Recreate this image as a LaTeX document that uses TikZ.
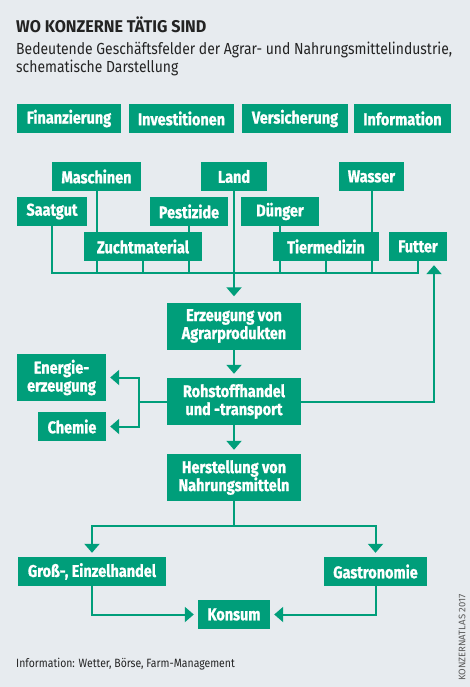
\documentclass[tikz,border=0pt]{standalone}
\usepackage{fontspec}
\setmainfont{Fira Sans}
\newfontfamily\boxfont[FakeStretch=0.85,FakeBold=1]{Fira Sans}
\newfontfamily\headfont[FakeStretch=0.95]{Fira Sans}
\newfontfamily\notefont[FakeStretch=0.87]{Fira Sans}
\usepackage{tikz}
\usetikzlibrary{arrows.meta}
\definecolor{atlasgreen}{RGB}{0,158,122}
\definecolor{paper}{RGB}{231,235,239}
\definecolor{ink}{RGB}{35,35,35}
\tikzstyle{field}=[fill=atlasgreen,text=white,font=\boxfont\bfseries\fontsize{17}{18}\selectfont,inner sep=0pt,minimum height=29pt,align=center]
\tikzstyle{tall}=[minimum height=47pt]
\tikzstyle{link}=[draw=atlasgreen,line width=2pt]
\tikzstyle{flow}=[-{Triangle[width=15pt,length=9pt]},shorten >=4pt]

\begin{document}
\begin{tikzpicture}[x=1pt,y=-1pt]
\useasboundingbox (0,0) rectangle (470,687);
\fill[paper] (0,0) rectangle (470,687);
% heading
\node [anchor=base west,inner sep=0pt,text=ink,font=\headfont\bfseries\fontsize{17}{18}\selectfont] (title) at (16,33) {WO KONZERNE TÄTIG SIND};
\node [anchor=base west,inner sep=0pt,text=ink,font=\notefont\fontsize{16}{18}\selectfont] (sub1) at (16,55) {Bedeutende Geschäftsfelder der Agrar- und Nahrungsmittelindustrie,};
\node [anchor=base west,inner sep=0pt,text=ink,font=\notefont\fontsize{16}{18}\selectfont] (sub2) at (16,73) {schematische Darstellung};
% services
\node [field,minimum width=104pt] (fin) at (69,118.5) {Finanzierung};
\node [field,minimum width=105pt] (inv) at (181.5,118.5) {Investitionen};
\node [field,minimum width=106pt] (vers) at (295,118.5) {Versicherung};
\node [field,minimum width=97pt] (info) at (402.5,118.5) {Information};
% inputs
\node [field,minimum width=89pt] (masch) at (96.5,176.5) {Maschinen};
\node [field,minimum width=66pt] (land) at (234,176.5) {Land};
\node [field,minimum width=65pt] (wasser) at (371.5,176.5) {Wasser};
\node [field,minimum width=70pt] (saat) at (52,211.5) {Saatgut};
\node [field,minimum width=78pt] (pest) at (189,211.5) {Pestizide};
\node [field,minimum width=78pt] (dueng) at (280,211.5) {Dünger};
\node [field,minimum width=118pt] (zucht) at (143,246.5) {Zuchtmaterial};
\node [field,minimum width=106pt] (tier) at (326,246.5) {Tiermedizin};
\node [field,minimum width=58pt] (futter) at (418,246.5) {Futter};
% chain
\node [field,tall,minimum width=134pt] (erz) at (234,326) {Erzeugung von\\Agrarprodukten};
\node [field,tall,minimum width=134pt] (roh) at (234,401.5) {Rohstoffhandel\\und -transport};
\node [field,tall,minimum width=89pt] (energ) at (61.5,377.5) {Energie-\\erzeugung};
\node [field,minimum width=68pt] (chem) at (72,426.5) {Chemie};
\node [field,tall,minimum width=134pt] (herst) at (234,477.5) {Herstellung von\\Nahrungsmitteln};
\node [field,minimum width=148pt] (gross) at (92,571.5) {Groß-, Einzelhandel};
\node [field,minimum width=103pt] (gastro) at (375.5,571.5) {Gastronomie};
\node [field,minimum width=72pt] (konsum) at (234,614.5) {Konsum};
% footer
\node [anchor=base west,inner sep=0pt,text=ink,font=\notefont\fontsize{12}{14}\selectfont] (note) at (16,667) {Information: Wetter, Börse, Farm-Management};
\node [rotate=90,inner sep=0pt,text=ink!75,font=\fontsize{9.5}{11}\selectfont] (credit) at (462,637.5) {KONZERNATLAS 2017};

\coordinate (bus) at (0,273);
\coordinate (split) at (139,401.5);
\coordinate (fork) at (234,526);

\draw[link] (saat) |- (futter |- bus) -- (futter);
\draw[link] (masch) -- (masch |- zucht.north);
\draw[link] (masch |- zucht.south) -- (masch |- bus);
\draw[link] (zucht) -- (zucht |- bus);
\draw[link] (pest) -- (pest |- zucht.north);
\draw[link] (pest |- zucht.south) -- (pest |- bus);
\draw[link] (dueng) -- (dueng |- tier.north);
\draw[link] (dueng |- tier.south) -- (dueng |- bus);
\draw[link] (tier) -- (tier |- bus);
\draw[link] (wasser) -- (wasser |- tier.north);
\draw[link] (wasser |- tier.south) -- (wasser |- bus);
\draw[link,flow,shorten >=6pt] (land) -- (erz);
\draw[link,flow] (erz) -- (roh);
\draw[link,flow] (roh) -| ([xshift=16pt]futter.south);
\draw[link,flow] (roh) -- (split) |- (energ);
\draw[link,flow] (split) |- (chem);
\draw[link,flow] (roh) -- (herst);
\draw[link,flow] (herst) -- (fork) -| (gross);
\draw[link,flow] (fork) -| (gastro);
\draw[link,flow] (gross) |- (konsum);
\draw[link,flow] (gastro) |- (konsum);
%\draw[link] (fork) -- (konsum);
\end{tikzpicture}
\end{document}
